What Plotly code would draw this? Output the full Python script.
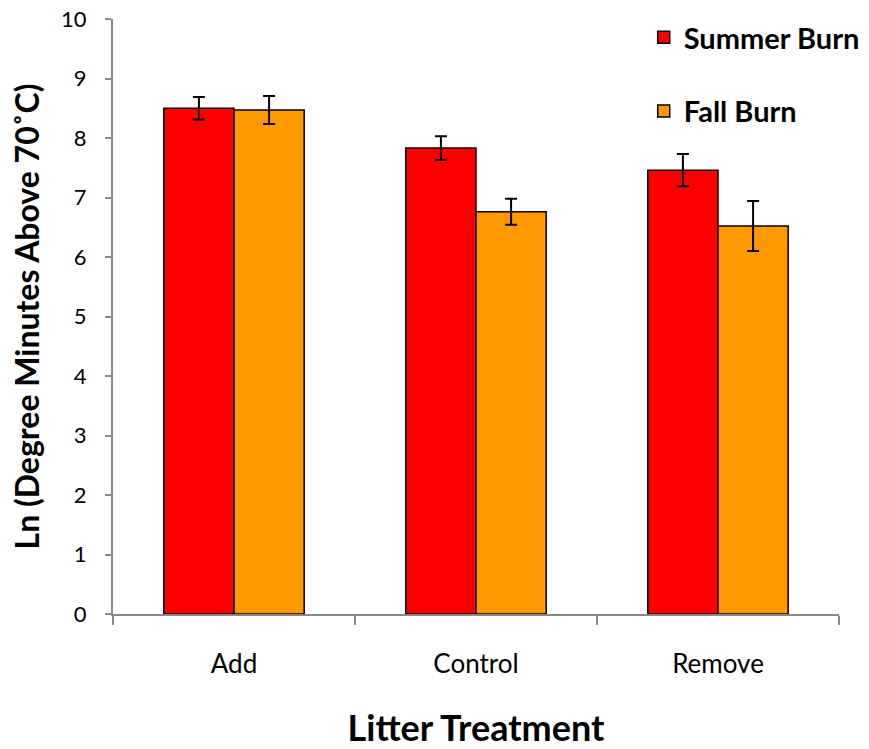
import plotly.graph_objects as go

categories = ["Add", "Control", "Remove"]
summer = [8.50, 7.83, 7.46]
summer_err = [0.19, 0.20, 0.27]
fall = [8.47, 6.76, 6.52]
fall_err = [0.235, 0.22, 0.42]
yticks = list(range(0, 11))

FONT = "Lato"
fig = go.Figure()
fig.add_trace(go.Bar(
    x=categories, y=summer, name="Summer Burn", legendgroup="s",
    marker=dict(color="#FF0000", line=dict(color="#000000", width=1.5)),
    error_y=dict(type="data", array=summer_err, color="#000000", thickness=2, width=6),
))
fig.add_trace(go.Bar(
    x=categories, y=fall, name="Fall Burn", legendgroup="f",
    marker=dict(color="#FF9900", line=dict(color="#000000", width=1.5)),
    error_y=dict(type="data", array=fall_err, color="#000000", thickness=2, width=6),
))

fig.update_layout(
    width=869, height=749,
    margin=dict(l=113, r=30, t=19, b=135, autoexpand=False),
    plot_bgcolor="white", paper_bgcolor="white",
    barmode="group", bargap=0.42, bargroupgap=0,
    font=dict(family=FONT, color="#000000"),
    showlegend=True,
    legend=dict(
        x=0.731, y=1.012, xanchor="left", yanchor="top",
        font=dict(family=FONT, size=29, color="#000000", weight="bold"),
        tracegroupgap=33, bgcolor="rgba(0,0,0,0)",
        itemwidth=30,
    ),
    xaxis=dict(
        showline=True, linecolor="#898989", linewidth=2,
        ticks="outside", tickson="boundaries", ticklen=9, tickcolor="#898989", tickwidth=2,
        tickfont=dict(family=FONT, size=26),
        ticklabelstandoff=26,
        title=dict(text="Litter Treatment", font=dict(family=FONT, size=36, weight="bold"), standoff=50),
        showgrid=False,
    ),
    yaxis=dict(
        range=[0, 10], tickvals=yticks,
        showline=True, linecolor="#898989", linewidth=2,
        ticks="outside", ticklen=6, tickcolor="#898989", tickwidth=2,
        tickfont=dict(family=FONT, size=22),
        ticklabelstandoff=14,
        title=dict(text="Ln (Degree Minutes Above 70˚C)", font=dict(family=FONT, size=32, weight="bold"), standoff=12),
        showgrid=False, zeroline=False,
    ),
)

fig.write_html("out.html")
